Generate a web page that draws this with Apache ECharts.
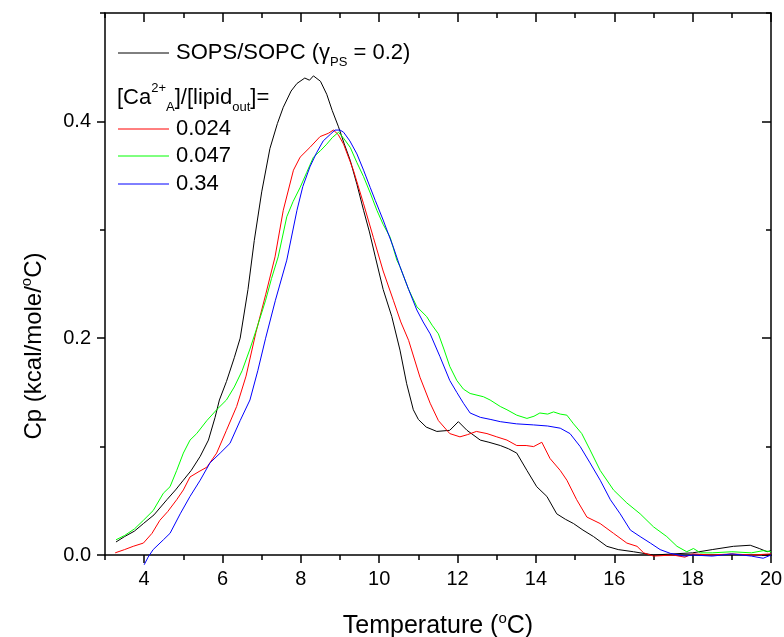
<!DOCTYPE html>
<html><head><meta charset="utf-8">
<script src="https://cdn.jsdelivr.net/npm/echarts@6/dist/echarts.min.js"></script>
<style>html,body{margin:0;padding:0;background:#fff}#c{width:784px;height:637px}</style>
</head><body><div id="c"></div>
<script>
const FONT = '"Liberation Sans", Arial, sans-serif';
const xMajorTicks = [4, 6, 8, 10, 12, 14, 16, 18, 20];
const xMinorTicks = [3, 5, 7, 9, 11, 13, 15, 17, 19];
const yMajorTicks = [0, 0.2, 0.4];
const yMinorTicks = [0.1, 0.3, 0.5];
const seriesNames = ['SOPS/SOPC', '0.024', '0.047', '0.34'];
const seriesColors = ['#000000', '#ff0000', '#00ff00', '#0000ff'];

const blackT = [3.28,3.5,3.75,3.98,4.25,4.58,4.8,5.0,5.2,5.43,5.64,5.81,5.92,6.1,6.3,6.45,6.65,6.81,7.0,7.21,7.4,7.55,7.75,7.9,8.1,8.22,8.32,8.5,8.66,8.8,8.96,9.1,9.26,9.43,9.6,9.75,9.9,10.1,10.32,10.53,10.7,10.87,11.0,11.2,11.47,11.8,12.02,12.24,12.58,12.8,13.09,13.3,13.51,13.77,14.02,14.28,14.53,14.75,14.96,15.2,15.47,15.81,16.1,16.49,17.0,17.5,18.0,18.5,19.04,19.47,19.7,19.9,20.0];
const blackCp = [0.012,0.017,0.022,0.029,0.037,0.051,0.06,0.069,0.078,0.091,0.106,0.127,0.143,0.16,0.182,0.2,0.245,0.29,0.335,0.375,0.398,0.413,0.428,0.435,0.44,0.438,0.442,0.437,0.425,0.41,0.395,0.38,0.364,0.342,0.318,0.298,0.275,0.245,0.22,0.189,0.158,0.134,0.125,0.118,0.114,0.115,0.123,0.115,0.106,0.104,0.101,0.098,0.094,0.078,0.063,0.054,0.038,0.033,0.029,0.023,0.017,0.008,0.005,0.003,0.0,0.001,0.002,0.005,0.008,0.009,0.006,0.003,0.004];

const redT = [3.26,3.5,3.72,3.98,4.2,4.4,4.6,4.83,5.0,5.17,5.4,5.6,5.85,6.1,6.36,6.6,6.85,7.1,7.34,7.55,7.81,7.98,8.23,8.49,8.7,8.83,8.95,9.09,9.34,9.6,9.85,10.1,10.36,10.55,10.75,11.04,11.3,11.51,11.8,12.06,12.25,12.48,12.75,13.0,13.26,13.51,13.75,13.94,14.15,14.36,14.62,14.79,15.04,15.3,15.64,15.98,16.32,16.58,16.75,17.0,17.5,17.8,18.0,18.5,19.0,19.5,20.0];
const redCp = [0.002,0.005,0.008,0.011,0.02,0.032,0.04,0.051,0.06,0.072,0.077,0.081,0.094,0.115,0.137,0.165,0.205,0.24,0.275,0.318,0.355,0.367,0.376,0.386,0.389,0.392,0.388,0.379,0.355,0.324,0.293,0.262,0.235,0.215,0.198,0.164,0.14,0.124,0.112,0.109,0.111,0.114,0.112,0.109,0.106,0.101,0.101,0.1,0.104,0.089,0.078,0.069,0.051,0.035,0.029,0.02,0.011,0.008,0.002,-0.001,0.0,-0.002,0.001,0.0,0.001,0.0,0.001];

const greenT = [3.28,3.5,3.75,3.98,4.23,4.49,4.66,4.83,5.0,5.17,5.34,5.6,5.85,6.1,6.3,6.5,6.7,6.9,7.1,7.25,7.42,7.64,7.8,7.98,8.15,8.32,8.5,8.66,8.8,8.96,9.1,9.26,9.43,9.6,9.77,9.94,10.1,10.28,10.45,10.53,10.75,10.96,11.21,11.35,11.51,11.65,11.8,11.98,12.15,12.32,12.66,12.83,13.09,13.26,13.51,13.77,13.95,14.1,14.3,14.45,14.62,14.79,14.96,15.17,15.38,15.64,15.98,16.32,16.66,17.0,17.34,17.6,17.85,18.02,18.2,18.5,19.0,19.5,19.8,20.0];
const greenCp = [0.014,0.018,0.024,0.032,0.041,0.057,0.063,0.078,0.094,0.106,0.112,0.124,0.134,0.143,0.155,0.17,0.19,0.212,0.235,0.255,0.275,0.312,0.326,0.339,0.353,0.367,0.373,0.379,0.385,0.39,0.384,0.376,0.362,0.349,0.334,0.318,0.305,0.293,0.272,0.266,0.245,0.229,0.22,0.212,0.204,0.19,0.174,0.161,0.153,0.149,0.146,0.143,0.137,0.134,0.129,0.126,0.128,0.131,0.13,0.132,0.13,0.129,0.121,0.112,0.097,0.078,0.06,0.048,0.038,0.026,0.017,0.008,0.003,0.006,0.002,0.002,0.003,0.002,0.004,0.003];

const blueT = [4.0,4.1,4.23,4.49,4.66,4.92,5.17,5.43,5.68,5.94,6.19,6.45,6.7,6.9,7.1,7.35,7.64,7.9,8.05,8.23,8.4,8.57,8.75,8.87,9.0,9.09,9.25,9.43,9.6,9.77,9.9,10.1,10.36,10.53,10.75,10.96,11.12,11.3,11.55,11.8,11.98,12.15,12.32,12.58,12.85,13.09,13.5,13.94,14.3,14.62,14.87,15.13,15.38,15.64,15.9,16.15,16.41,16.66,16.92,17.17,17.43,17.8,18.0,18.5,19.0,19.5,19.8,20.0];
const blueCp = [-0.009,-0.002,0.005,0.014,0.02,0.038,0.054,0.069,0.085,0.094,0.103,0.124,0.143,0.17,0.2,0.235,0.272,0.318,0.34,0.358,0.371,0.382,0.388,0.392,0.392,0.39,0.382,0.37,0.355,0.339,0.327,0.309,0.284,0.266,0.245,0.226,0.215,0.204,0.183,0.161,0.15,0.14,0.131,0.127,0.125,0.123,0.121,0.12,0.119,0.117,0.112,0.1,0.085,0.069,0.051,0.038,0.023,0.017,0.011,0.005,0.0015,-0.001,0.0,-0.001,0.001,-0.001,-0.003,0.0];

const seriesT = [blackT, redT, greenT, blueT];
const seriesCp = [blackCp, redCp, greenCp, blueCp];

const chart = echarts.init(document.getElementById('c'), null, {renderer: 'canvas'});

const lineCol = '#000';
const nameRich = {sup: {fontSize: 15, fontFamily: FONT, color: '#000', verticalAlign: 'top', lineHeight: 15}};
function xAx(pos, ticks, len, inside, labels, showLine, name) {
  return {
    type: 'value', position: pos, min: 3, max: 20, gridIndex: 0,
    axisLine: {show: showLine, onZero: false, lineStyle: {color: lineCol, width: 1.5}},
    axisTick: {show: true, inside: inside, length: len, customValues: ticks, lineStyle: {color: lineCol, width: 1.5}},
    axisLabel: labels ? {show: true, customValues: ticks, margin: 14, fontSize: 20, fontFamily: FONT, color: '#000'} : {show: false},
    splitLine: {show: false},
    name: name || '', nameLocation: 'middle', nameGap: 56,
    nameTextStyle: {fontSize: 25, fontFamily: FONT, color: '#000', lineHeight: 30, rich: nameRich}
  };
}
function yAx(pos, ticks, len, inside, labels, showLine, name) {
  return {
    type: 'value', position: pos, min: 0, max: 0.5, gridIndex: 0,
    axisLine: {show: showLine, onZero: false, lineStyle: {color: lineCol, width: 1.5}},
    axisTick: {show: true, inside: inside, length: len, customValues: ticks, lineStyle: {color: lineCol, width: 1.5}},
    axisLabel: labels ? {show: true, customValues: ticks, margin: 14, fontSize: 20, fontFamily: FONT, color: '#000',
      formatter: v => v.toFixed(1)} : {show: false},
    splitLine: {show: false},
    name: name || '', nameLocation: 'middle', nameGap: 56, nameRotate: 90,
    nameTextStyle: {fontSize: 24, fontFamily: FONT, color: '#000', lineHeight: 30, padding: [0, 124, 0, 0], rich: nameRich}
  };
}

const series = seriesNames.map((n, i) => ({
  name: n, type: 'line', xAxisIndex: 0, yAxisIndex: 0,
  data: seriesT[i].map((t, j) => [t, seriesCp[i][j]]),
  showSymbol: false, symbol: 'none', smooth: false, clip: false,
  lineStyle: {color: seriesColors[i], width: 1},
  itemStyle: {color: seriesColors[i]}, z: 3 + i
}));

const baseRich = {
  sup: {fontSize: 13, fontFamily: FONT, color: '#000', verticalAlign: 'top', lineHeight: 14},
  sub: {fontSize: 13, fontFamily: FONT, color: '#000', verticalAlign: 'bottom', lineHeight: 14}
};
function legendText(x, y, text) {
  return {type: 'text', x: x, y: y, z: 10,
    style: {text: text, fontSize: 22, fontFamily: FONT, fill: '#000', verticalAlign: 'middle', align: 'left',
      lineHeight: 32, rich: baseRich}};
}
function legendLine(y, color) {
  return {type: 'line', z: 10, shape: {x1: 118, y1: y, x2: 169, y2: y}, style: {stroke: color, lineWidth: 1}};
}

chart.setOption({
  animation: false,
  backgroundColor: '#fff',
  grid: {left: 105, right: 13, top: 13, bottom: 82, containLabel: false, outerBoundsMode: 'none'},
  xAxis: [
    xAx('bottom', xMajorTicks, 8, false, true, true, 'Temperature ({sup|o}C)'),
    xAx('bottom', xMinorTicks, 5, false, false, false),
    xAx('top', xMajorTicks, 9, true, false, true),
    xAx('top', xMinorTicks, 5, true, false, false)
  ],
  yAxis: [
    yAx('left', yMajorTicks, 8, false, true, true, 'Cp (kcal/mole/{sup|o}C)'),
    yAx('left', yMinorTicks, 5, false, false, false),
    yAx('right', yMajorTicks, 9, true, false, true),
    yAx('right', yMinorTicks, 5, true, false, false)
  ],
  series: series,
  graphic: [
    legendLine(53, seriesColors[0]),
    legendText(176, 53, 'SOPS/SOPC (γ{sub|PS} = 0.2)'),
    legendText(117, 98, '[Ca{sup|2+}{sub|A}]/[lipid{sub|out}]='),
    legendLine(129, seriesColors[1]),
    legendText(176, 129, seriesNames[1]),
    legendLine(156, seriesColors[2]),
    legendText(176, 156, seriesNames[2]),
    legendLine(184, seriesColors[3]),
    legendText(176, 184, seriesNames[3])
  ]
});
</script></body></html>
